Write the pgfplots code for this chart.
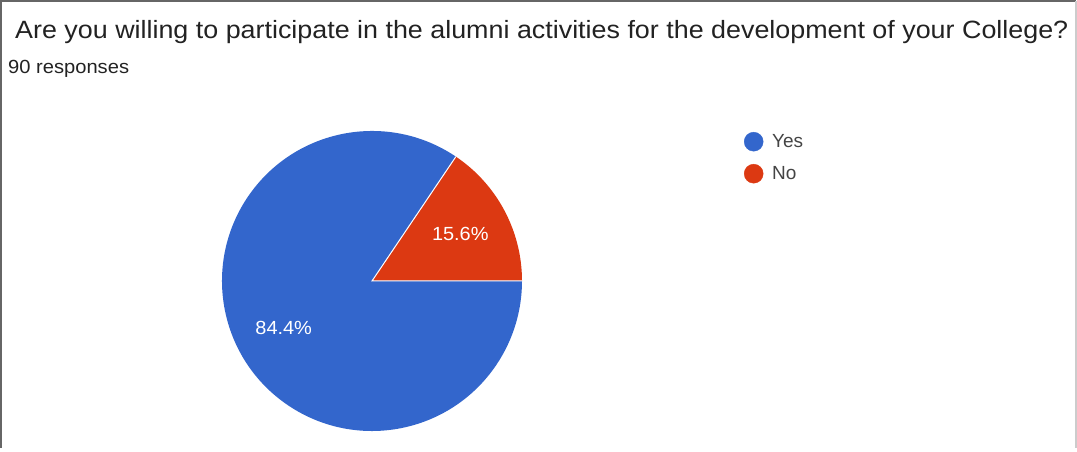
\documentclass[border=0pt]{standalone}
\usepackage{pgfplots}
\pgfplotsset{compat=1.18}
\usepackage{pgfplotstable}
\usepackage{fontspec}
\setmainfont{Liberation Sans}
\definecolor{gblue}{HTML}{3366CC}
\definecolor{gred}{HTML}{DC3912}
\definecolor{txt}{HTML}{222222}
\definecolor{legtxt}{HTML}{444444}
\pgfplotstableread{
label count
Yes 76
No 14
}\piedata
\begin{document}
\begin{tikzpicture}
\pgfplotstablegetelem{0}{count}\of\piedata \let\nyes\pgfplotsretval
\pgfplotstablegetelem{1}{count}\of\piedata \let\nno\pgfplotsretval
\pgfmathsetmacro\angno{360*\nno/(\nyes+\nno)}
\begin{axis}[scale only axis, width=1077pt, height=448pt,
  xmin=0, xmax=1077, ymin=0, ymax=448, hide axis, clip=false,
  legend style={at={(axis cs:744,316)}, anchor=north west, draw=none, fill=none,
    font=\fontsize{19}{22}\selectfont, text=legtxt, row sep=13pt, inner sep=0pt},
  legend cell align=left]
\path (axis cs:0,0) rectangle (axis cs:1077,448);
\addlegendimage{only marks, mark=*, mark size=9.5pt, gblue}
\addlegendentry{\hspace{7pt}Yes}
\addlegendimage{only marks, mark=*, mark size=9.5pt, gred}
\addlegendentry{\hspace{7pt}No}
% pie sectors
\fill[gred] (axis cs:372,167) -- (axis cs:522,167) arc[start angle=0, end angle=\angno, radius=150pt] -- cycle;
\fill[gblue] (axis cs:372,167) -- +(\angno:150pt) arc[start angle=\angno, end angle=360, radius=150pt] -- cycle;
\draw[white, line width=1pt] (axis cs:522,167) -- (axis cs:372,167) -- +(\angno:150pt);
% labels
\node[white, font=\fontsize{19}{22}\selectfont] at (axis cs:{372+100*cos(\angno/2)},{167+100*sin(\angno/2)}) {\scalebox{1.05}[1]{15.6\%}};
\node[white, font=\fontsize{19}{22}\selectfont] at (axis cs:{372+100*cos(180+\angno/2)},{167+100*sin(180+\angno/2)}) {\scalebox{1.05}[1]{84.4\%}};
% title
\node[anchor=base west, inner sep=0pt, text=txt, font=\fontsize{25}{29}\selectfont] at (axis cs:15,409) {\scalebox{1.075}[1]{Are you willing to participate in the alumni activities for the development of your College?}};
\node[anchor=base west, inner sep=0pt, text=txt, font=\fontsize{19}{22}\selectfont] at (axis cs:8,374) {\scalebox{1.06}[1]{90 responses}};
% frame
\draw[gray!80!black, line width=2pt] (axis cs:1,0) -- (axis cs:1,447) -- (axis cs:1076,447);
\draw[gray!40, line width=1.5pt] (axis cs:1076,447) -- (axis cs:1076,0);
\end{axis}
\end{tikzpicture}
\end{document}
